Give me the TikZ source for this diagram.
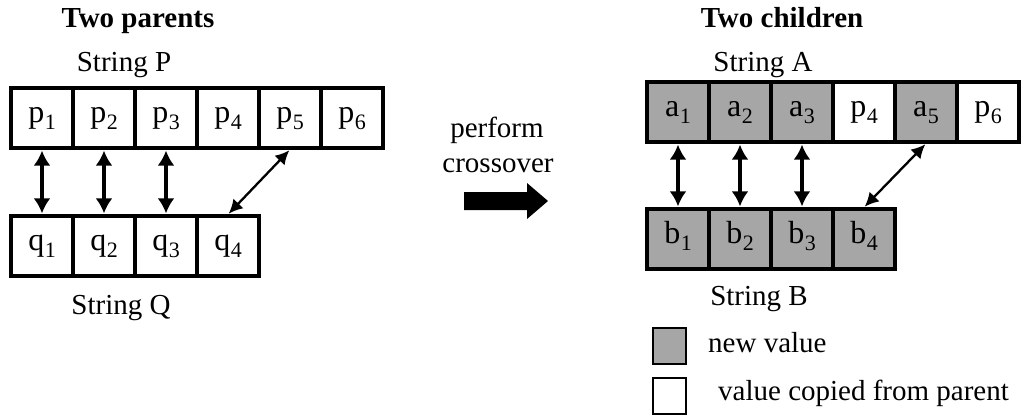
\documentclass[tikz,border=0pt]{standalone}
\usepackage{fontspec}
\setmainfont{Liberation Serif}
\usetikzlibrary{arrows.meta}
\definecolor{newgray}{RGB}{166,166,166}
\newcommand{\lab}[2]{#1\kern0.5pt\raisebox{-0.22em}{\fontsize{22}{22}\selectfont #2}}
\begin{document}
\begin{tikzpicture}[x=1pt,y=-1pt,
  cell/.style={draw,line width=3.2pt,minimum width=62pt,minimum height=60pt,inner sep=0pt,
    text height=15pt,text depth=6pt,font=\fontsize{32}{36}\selectfont},
  newcell/.style={cell,fill=newgray},
  txt/.style={font=\fontsize{29}{34}\selectfont,inner sep=0pt,anchor=base},
  head/.style={txt,font=\fontsize{29}{34}\selectfont\bfseries},
  legtxt/.style={font=\fontsize{29}{34}\selectfont,inner sep=0pt,anchor=base west},
  legbox/.style={draw,line width=2pt,minimum width=33pt,minimum height=36pt,inner sep=0pt},
  link/.style={line width=3.6pt,{Latex[length=15pt,width=17pt]}-{Latex[length=15pt,width=17pt]},shorten <=1pt,shorten >=1pt},
  dlink/.style={line width=2.3pt,{Latex[length=14pt,width=14pt]}-{Latex[length=14pt,width=14pt]},shorten <=1pt,shorten >=1pt}
  ]
\useasboundingbox (0,0) rectangle (1023,417);

% headings
\node[head] (hp) at (138,28) {Two parents};
\node[head] (hc) at (782,28) {Two children};
\node[txt] (sp) at (124,72) {String P};
\node[txt] (sq) at (121,314) {String Q};
\node[txt] (sa) at (763,72) {String A};
\node[txt] (sb) at (759,305) {String B};

% parents
\foreach \i in {1,...,6}
  \node[cell] (P\i) at ({11+62*(\i-0.5)},118) {\lab{p}{\i}};
\foreach \i in {1,...,4}
  \node[cell] (Q\i) at ({11+62*(\i-0.5)},246) {\lab{q}{\i}};

\foreach \i in {1,2,3}
  \draw[link] (P\i.south) -- (Q\i.north);
\draw[dlink] (P5.south) -- (Q4.north);

% crossover
\node[txt] (t1) at (497,138) {perform};
\node[txt] (t2) at (498,172) {crossover};
\fill (464,192) -- (527,192) -- (527,183) -- (548,201) -- (527,219) -- (527,210) -- (464,210) -- cycle;

% children
\node[newcell] (A1) at ({647+62*0.5},112) {\lab{a}{1}};
\node[newcell] (A2) at ({647+62*1.5},112) {\lab{a}{2}};
\node[newcell] (A3) at ({647+62*2.5},112) {\lab{a}{3}};
\node[cell]    (A4) at ({647+62*3.5},112) {\lab{p}{4}};
\node[newcell] (A5) at ({647+62*4.5},112) {\lab{a}{5}};
\node[cell]    (A6) at ({647+62*5.5},112) {\lab{p}{6}};
\foreach \i in {1,...,4}
  \node[newcell] (B\i) at ({647+62*(\i-0.5)},239) {\lab{b}{\i}};

\foreach \i in {1,2,3}
  \draw[link] (A\i.south) -- (B\i.north);
\draw[dlink] (A5.south) -- (B4.north);

% legend
\node[legbox,fill=newgray] (L1) at (669.5,346) {};
\node[legbox] (L2) at (669,396) {};
\node[legtxt] (l1) at (708,352) {new value};
\node[legtxt] (l2) at (718,400) {value copied from parent};
\end{tikzpicture}
\end{document}
